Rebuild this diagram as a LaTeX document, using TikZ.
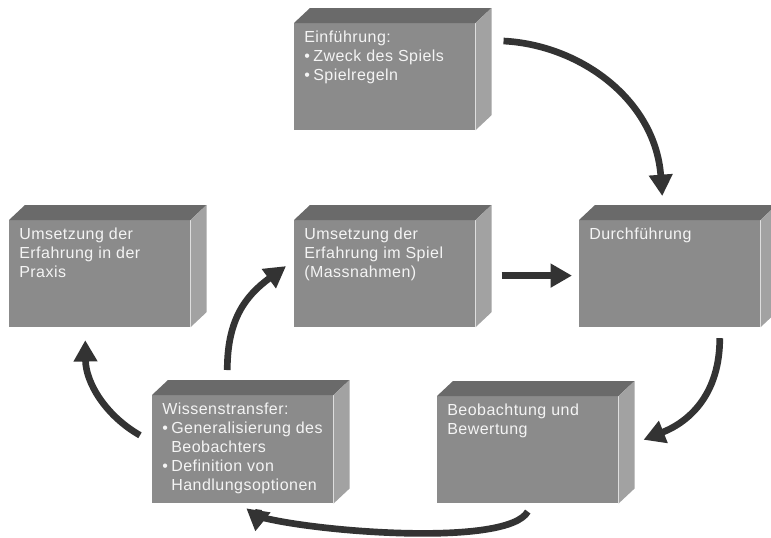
\documentclass[tikz,border=0pt]{standalone}
\usepackage{fontspec}
\setmainfont[LetterSpace=3]{Liberation Sans}
\usetikzlibrary{arrows.meta,calc}
\definecolor{frontc}{HTML}{8B8B8B}
\definecolor{topc}{HTML}{6A6A6A}
\definecolor{sidec}{HTML}{A2A2A2}
\definecolor{txtc}{HTML}{F4F4F4}
\definecolor{arrc}{HTML}{333333}
\newcommand\cubefaces[1]{%
  \fill[topc] (#1.north west) -- ++(16,-15) -- ($(#1.north east)+(16,-15)$) -- (#1.north east) -- cycle;
  \fill[sidec] (#1.north east) -- ++(16,-15) -- ($(#1.south east)+(16,-15)$) -- (#1.south east) -- cycle;}
\newcommand\bul{\makebox[6.75pt][l]{•}}
\newcommand\ind{\hspace*{6.75pt}}
\begin{document}
\begin{tikzpicture}[x=0.75pt,y=-0.75pt,
  face/.style={fill=frontc, draw=none, anchor=north west, inner sep=0pt,
    minimum width=135.75pt, minimum height=80pt},
  boxtext/.style={anchor=north west, inner sep=0pt, text=txtc, align=left,
    font=\fontsize{12}{14.25}\selectfont},
  flowline/.style={draw=arrc, line width=5pt},
  flow/.style={flowline, -{Triangle[length=16pt,width=17pt]}}]
\useasboundingbox (0,0) rectangle (771,537);
\fill[white] (0,0) rectangle (771,537);

% boxes
\node[face] (E) at (294,23) {};
\node[face] (D) at (579,220) {};
\node[face] (S) at (294,220) {};
\node[face] (P) at (9,220) {};
\node[face, minimum height=81pt] (W) at (152,395) {};
\node[face, minimum height=80.25pt] (B) at (437,396) {};
\cubefaces{E}\cubefaces{D}\cubefaces{S}\cubefaces{P}\cubefaces{W}\cubefaces{B}

% texts
\node[boxtext] (Et) at ($(E.north west)+(10,8)$) {Einführung:\\\bul Zweck des Spiels\\\bul Spielregeln};
\node[boxtext] (Dt) at ($(D.north west)+(10,8)$) {Durchführung};
\node[boxtext] (St) at ($(S.north west)+(10,8)$) {Umsetzung der\\Erfahrung im Spiel\\(Massnahmen)};
\node[boxtext] (Pt) at ($(P.north west)+(10,8)$) {Umsetzung der\\Erfahrung in der\\Praxis};
\node[boxtext] (Wt) at ($(W.north west)+(10,8)$) {Wissenstransfer:\\\bul Generalisierung des\\\ind Beobachters\\\bul Definition von\\\ind Handlungsoptionen};
\node[boxtext] (Bt) at ($(B.north west)+(10,8)$) {Beobachtung und\\Bewertung};

% connectors
\draw[flow] ($(E.north east)+(28,18)$) .. controls +(77,4) and +(-7,-96) .. ($(D.north)+(-7.5,-24)$);
\draw[flow] ($(S.east)+(26,2)$) -- ($(D.west)+(-7,2)$);
\draw[flow] ($(D.south)+(50,11)$) .. controls +(0,54) and +(48,-19) .. ($(B.east)+(25,-10)$);
\coordinate (Bend) at ($(W.south)+(19.5,14)$);
\draw[flowline] ($(B.south)+(0,8)$) .. controls +(-20,35) and +(60,15) .. (Bend);
\draw[flow] ($(W.south)+(16,6)$) -- ($(W.south)+(12.5,28)$);
\draw[flow] ($(W.west)+(-12,-14)$) .. controls +(-35,-20) and +(0.5,42) .. ($(P.south)+(-14.5,13)$);
\draw[flow] ($(W.north)+(-15.5,-25)$) .. controls +(0,-50) and +(-41,30) .. ($(S.west)+(-8,-7.5)$);
\end{tikzpicture}
\end{document}
